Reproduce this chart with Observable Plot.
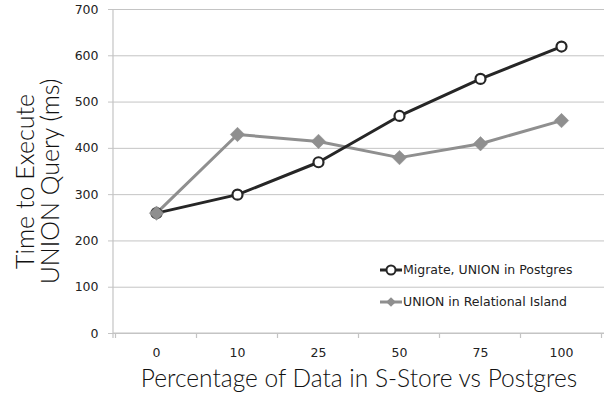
<!DOCTYPE html>
<html>
<head>
<meta charset="utf-8">
<script src="https://cdn.jsdelivr.net/npm/d3@7"></script>
<script src="https://cdn.jsdelivr.net/npm/@observablehq/plot@0.6"></script>
<style>
  html, body { margin: 0; padding: 0; background: #fff; }
  #chart { width: 607px; height: 402px; }
</style>
</head>
<body>
<div id="chart"></div>
<script>
const categories = ["0", "10", "25", "50", "75", "100"];
const migrateValues = [260, 300, 370, 470, 550, 620];
const relationalValues = [260, 430, 415, 380, 410, 460];
const yTicks = [0, 100, 200, 300, 400, 500, 600, 700];
const seriesNames = ["Migrate, UNION in Postgres", "UNION in Relational Island"];
const xTitle = "Percentage of Data in S-Store vs Postgres";
const yTitleLines = ["Time to Execute", "UNION Query (ms)"];

const darkColor = "#262626";
const grayColor = "#8f8f8f";
const axisGray = "#c4c4c4";

const migrate = categories.map((c, i) => ({cat: c, value: migrateValues[i]}));
const relational = categories.map((c, i) => ({cat: c, value: relationalValues[i]}));

const plot = Plot.plot({
  width: 607,
  height: 402,
  marginLeft: 113,
  marginRight: 3,
  marginTop: 9,
  marginBottom: 69,
  style: {fontFamily: "'DejaVu Sans', sans-serif", fontSize: "12px", background: "#fff", color: "#222"},
  x: {type: "point", domain: categories, padding: 0.5, label: null},
  y: {domain: [0, 700], label: null},
  marks: [
    Plot.gridY(yTicks, {stroke: axisGray, strokeOpacity: 1, strokeWidth: 1}),
    Plot.axisY(yTicks, {tickSize: 5, tickPadding: 10, stroke: axisGray, fill: "#222", fontSize: 12.5, label: null}),
    Plot.axisX(categories, {tickSize: 0, tickPadding: 15, fill: "#222", fontSize: 12.5, label: null}),
    Plot.line(relational, {x: "cat", y: "value", stroke: grayColor, strokeWidth: 3}),
    Plot.line(migrate, {x: "cat", y: "value", stroke: darkColor, strokeWidth: 3}),
    Plot.dot(migrate, {x: "cat", y: "value", r: 5, stroke: darkColor, strokeWidth: 2.2, fill: "#fff"}),
    Plot.dot(relational, {x: "cat", y: "value", symbol: "diamond2", r: 6.5, fill: grayColor, stroke: grayColor, strokeWidth: 0.5}),
    Plot.text([xTitle], {frameAnchor: "bottom", dy: 53, fontSize: 24.5, fontWeight: 300, fontFamily: "Lato", fill: "#111"}),
    Plot.text([yTitleLines.join("\n")], {frameAnchor: "left", textAnchor: "middle", dx: -75, dy: 10, rotate: -90, fontSize: 25, fontWeight: 300, lineHeight: 1.0, fontFamily: "Lato", fill: "#111"})
  ]
});

document.getElementById("chart").appendChild(plot);

// Axis lines, boundary ticks, legend drawn with the plot's scales
const svg = d3.select(plot);
const xs = plot.scale("x");
const ys = plot.scale("y");
const step = xs.apply(categories[1]) - xs.apply(categories[0]);
const left = 113, right = 604;
const y0 = ys.apply(0), yTop = ys.apply(700);
const g = svg.append("g");
g.append("line").attr("x1", left).attr("x2", left).attr("y1", yTop).attr("y2", y0 + 5)
  .attr("stroke", axisGray).attr("stroke-width", 1.2);
g.append("line").attr("x1", left).attr("x2", right).attr("y1", y0).attr("y2", y0)
  .attr("stroke", axisGray).attr("stroke-width", 1.2);
const bounds = categories.map(c => xs.apply(c) - step / 2).concat([xs.apply(categories[categories.length - 1]) + step / 2]);
g.selectAll("line.bt").data(bounds).join("line").attr("class", "bt")
  .attr("x1", d => d).attr("x2", d => d).attr("y1", y0).attr("y2", y0 + 5)
  .attr("stroke", axisGray).attr("stroke-width", 1.2);

// legend
const legendItems = [
  {name: seriesNames[0], color: darkColor, kind: "circle", y: 270},
  {name: seriesNames[1], color: grayColor, kind: "diamond", y: 302}
];
const lg = svg.append("g").attr("font-family", "'DejaVu Sans', sans-serif").attr("font-size", 12.5).attr("text-anchor", "start");
legendItems.forEach(it => {
  const gg = lg.append("g");
  gg.append("line").attr("x1", 380).attr("x2", 402).attr("y1", it.y).attr("y2", it.y)
    .attr("stroke", it.color).attr("stroke-width", 3);
  if (it.kind === "circle") {
    gg.append("circle").attr("cx", 391).attr("cy", it.y).attr("r", 4.5)
      .attr("fill", "#fff").attr("stroke", it.color).attr("stroke-width", 2);
  } else {
    gg.append("path").attr("d", d3.symbol(d3.symbolDiamond2, 60)()).attr("transform", `translate(391,${it.y})`)
      .attr("fill", it.color);
  }
  gg.append("text").attr("x", 403).attr("y", it.y).attr("dy", "0.35em").attr("fill", "#222").attr("text-anchor", "start").text(it.name);
});
</script>
</body>
</html>
